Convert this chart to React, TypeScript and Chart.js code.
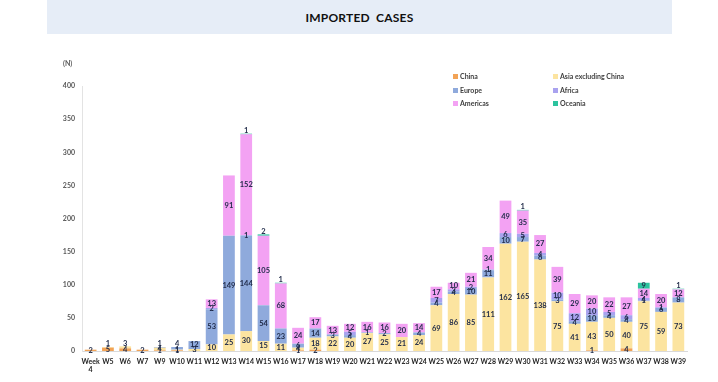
import React, { useEffect, useRef } from "react";
import { Chart, registerables } from "chart.js";

Chart.register(...registerables);

const weeks: (string | string[])[] = [
  ["Week", "4"], "W5", "W6", "W7", "W9", "W10", "W11", "W12", "W13", "W14", "W15", "W16", "W17", "W18",
  "W19", "W20", "W21", "W22", "W23", "W24", "W25", "W26", "W27", "W28", "W29", "W30", "W31", "W32",
  "W33", "W34", "W35", "W36", "W37", "W38", "W39",
];

const china = [2, 5, 4, 2, 1, 1, 0, 0, 0, 0, 0, 0, 1, 2, 0, 0, 0, 0, 0, 0, 0, 0, 0, 0, 0, 0, 0, 0, 0, 1, 0, 4, 0, 0, 0];
const asiaExChina = [0, 1, 3, 0, 4, 1, 3, 10, 25, 30, 15, 11, 4, 18, 22, 20, 27, 25, 21, 24, 69, 86, 85, 111, 162, 165, 138, 75, 41, 43, 50, 40, 75, 59, 73];
const europe = [0, 0, 0, 0, 1, 4, 12, 53, 149, 144, 54, 23, 6, 14, 3, 4, 1, 2, 0, 4, 4, 4, 10, 11, 10, 7, 6, 3, 4, 10, 4, 4, 1, 6, 8];
const africa = [0, 0, 0, 0, 0, 0, 0, 2, 0, 1, 0, 0, 0, 0, 0, 5, 0, 0, 0, 0, 7, 3, 2, 1, 6, 5, 4, 10, 12, 10, 5, 6, 4, 1, 0];
const americas = [0, 0, 0, 0, 0, 0, 0, 13, 91, 152, 105, 68, 24, 17, 13, 12, 16, 16, 20, 14, 17, 10, 21, 34, 49, 35, 27, 39, 29, 20, 22, 27, 14, 20, 12];
const oceania = [0, 0, 0, 0, 0, 0, 0, 0, 0, 1, 2, 1, 0, 0, 0, 0, 0, 0, 0, 0, 0, 0, 0, 0, 0, 1, 0, 0, 0, 0, 0, 0, 9, 0, 1];

const yTicks = [0, 50, 100, 150, 200, 250, 300, 350, 400];

const COLORS = {
  china: "#f2a356",
  asia: "#fce4a0",
  europe: "#8faadc",
  africa: "#a9a2ef",
  americas: "#f3a2f3",
  oceania: "#2cc39e",
};

const FONT = "Lato, 'Open Sans', 'Liberation Sans', sans-serif";

const labelPlugin = {
  id: "segLabels",
  afterDatasetsDraw(chart: any) {
    const ctx = chart.ctx;
    ctx.save();
    ctx.font = `bold 7.5px ${FONT}`;
    ctx.fillStyle = "#1f2a48";
    ctx.textAlign = "center";
    ctx.textBaseline = "middle";
    const n = chart.data.labels.length;
    const nds = chart.data.datasets.length;
    for (let i = 0; i < n; i++) {
      let topDi = -1;
      for (let d = nds - 1; d >= 0; d--) {
        if (chart.data.datasets[d].data[i]) { topDi = d; break; }
      }
      for (let d = 0; d < nds; d++) {
        const v = chart.data.datasets[d].data[i];
        if (!v) continue;
        const el = chart.getDatasetMeta(d).data[i];
        const h = Math.abs(el.base - el.y);
        let y = (el.y + el.base) / 2;
        if (d === topDi && h < 4 && d > 0) y = el.y - 3;
        ctx.fillText(String(v), el.x, y);
      }
    }
    ctx.restore();
  },
};

export default function App() {
  const ref = useRef<HTMLCanvasElement | null>(null);

  useEffect(() => {
    if (!ref.current) return;
    const mk = (label: string, data: number[], color: string) => ({
      label,
      data,
      backgroundColor: color,
      borderWidth: 0,
      barPercentage: 0.68,
      categoryPercentage: 1,
      stack: "s",
    });
    const chart = new Chart(ref.current, {
      type: "bar",
      data: {
        labels: weeks,
        datasets: [
          mk("China", china, COLORS.china),
          mk("Asia excluding China", asiaExChina, COLORS.asia),
          mk("Europe", europe, COLORS.europe),
          mk("Africa", africa, COLORS.africa),
          mk("Americas", americas, COLORS.americas),
          mk("Oceania", oceania, COLORS.oceania),
        ],
      },
      options: {
        animation: false,
        responsive: false,
        maintainAspectRatio: false,
        layout: { padding: { left: 42, top: 86, right: 31, bottom: 0 } },
        plugins: { legend: { display: false }, tooltip: { enabled: false }, title: { display: false } },
        scales: {
          x: {
            stacked: true,
            grid: { display: false, drawTicks: false },
            border: { display: true, color: "#d9d9d9" },
            ticks: {
              autoSkip: false,
              maxRotation: 0,
              minRotation: 0,
              padding: 6,
              color: "#262626",
              font: { family: FONT, size: 7, weight: "bold", lineHeight: 1.25 },
            },
            afterFit: (s: any) => { s.height = 31; },
          },
          y: {
            stacked: true,
            min: 0,
            max: 400,
            afterBuildTicks: (s: any) => { s.ticks = yTicks.map((v) => ({ value: v })); },
            grid: { display: false, drawTicks: false },
            border: { display: true, color: "#e3e3e3" },
            ticks: {
              padding: 7,
              color: "#595959",
              font: { family: FONT, size: 7, weight: "bold" },
            },
            afterFit: (s: any) => { s.width = 40; },
          },
        },
      },
      plugins: [labelPlugin],
    } as any);
    return () => chart.destroy();
  }, []);

  const legendItems = [
    { t: "China", c: COLORS.china, x: 453, y: 76 },
    { t: "Asia excluding China", c: COLORS.asia, x: 553, y: 76 },
    { t: "Europe", c: COLORS.europe, x: 453, y: 90 },
    { t: "Africa", c: COLORS.africa, x: 553, y: 90 },
    { t: "Americas", c: COLORS.americas, x: 453, y: 103 },
    { t: "Oceania", c: COLORS.oceania, x: 553, y: 103 },
  ];

  return (
    <div style={{ position: "fixed", left: 0, top: 0, width: 718, height: 382, background: "#ffffff", overflow: "hidden", fontFamily: FONT }}>
      <div style={{ position: "absolute", left: 47, top: 0, width: 625, height: 34, background: "#e6edf7", display: "flex", alignItems: "center", justifyContent: "center", fontWeight: 700, fontSize: 12, color: "#111", letterSpacing: 0.2 }}>
        IMPORTED&nbsp; CASES
      </div>
      <canvas ref={ref} width={718} height={382} style={{ position: "absolute", left: 0, top: 0, width: 718, height: 382 }} />
      <div style={{ position: "absolute", left: 63, top: 59, fontSize: 7, fontWeight: 700, color: "#595959" }}>(N)</div>
      {legendItems.map((it) => (
        <div key={it.t} style={{ position: "absolute", left: it.x, top: it.y - 5, height: 10, display: "flex", alignItems: "center", fontSize: 7, fontWeight: 700, color: "#404040", whiteSpace: "nowrap" }}>
          <span style={{ display: "inline-block", width: 5, height: 5, background: it.c, marginRight: 2 }} />
          {it.t}
        </div>
      ))}
    </div>
  );
}
